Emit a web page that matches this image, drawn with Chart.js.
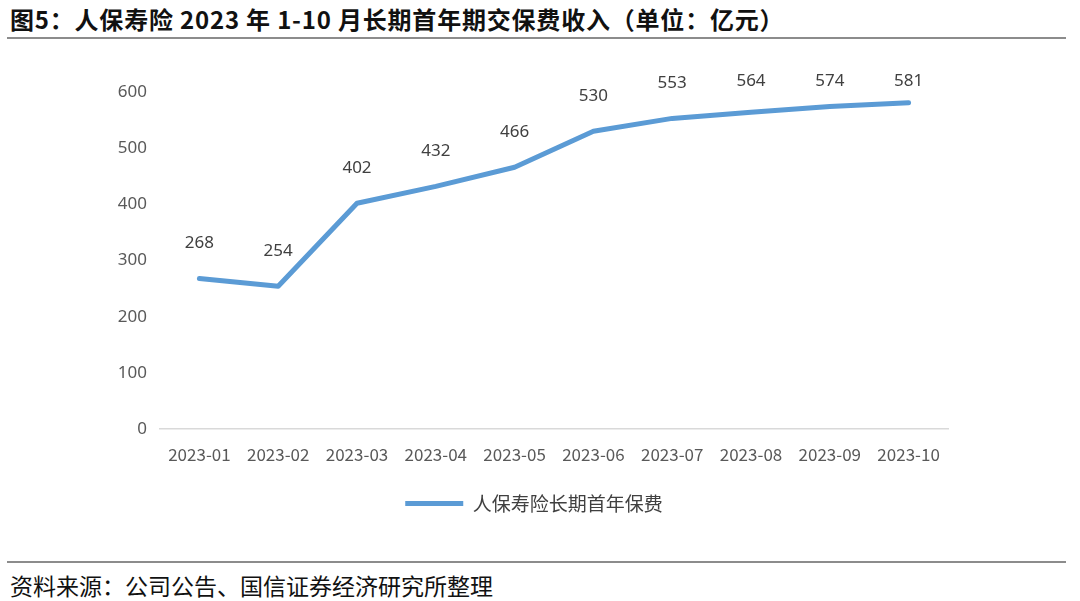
<!DOCTYPE html>
<html>
<head>
<meta charset="utf-8">
<script src="https://cdn.jsdelivr.net/npm/chart.js@4.4.0/dist/chart.umd.min.js"></script>
<style>
  body { margin: 0; width: 1080px; height: 601px; background: #fff; position: relative; overflow: hidden;
         font-family: "Noto Sans CJK SC", "Noto Sans", sans-serif; }
  .title { position: absolute; left: 10px; top: 1px; font-size: 24px; font-weight: bold; color: #111; letter-spacing: 0.8px; }
  .rule { position: absolute; left: 7px; width: 1059px; height: 2px; background: #8c8c8c; }
  .source { position: absolute; left: 10px; top: 568px; font-size: 23px; color: #111; }
  #wrap { position: absolute; left: 0; top: 40px; width: 1080px; height: 520px; }
</style>
</head>
<body>
<div class="title">图5：人保寿险 2023 年 1-10 月长期首年期交保费收入（单位：亿元）</div>
<div class="rule" style="top:37px"></div>
<div id="wrap"><canvas id="myChart"></canvas></div>
<div class="rule" style="top:561px"></div>
<div class="source">资料来源：公司公告、国信证券经济研究所整理</div>
<script>
const months = ["2023-01", "2023-02", "2023-03", "2023-04", "2023-05",
                "2023-06", "2023-07", "2023-08", "2023-09", "2023-10"];
const premium = [268, 254, 402, 432, 466, 530, 553, 564, 574, 581];
const seriesName = "人保寿险长期首年保费";

// value labels above each point
const valueLabels = {
    id: "valueLabels",
    afterDatasetsDraw(chart) {
        const ctx = chart.ctx;
        const meta = chart.getDatasetMeta(0);
        ctx.save();
        ctx.font = "17px 'Noto Sans', 'DejaVu Sans', sans-serif";
        ctx.fillStyle = "#404040";
        ctx.textAlign = "center";
        ctx.textBaseline = "middle";
        meta.data.forEach((pt, i) => {
            const y = Math.max(pt.y - 35, chart.chartArea.top - 11);
            ctx.fillText(premium[i], pt.x, y);
        });
        ctx.restore();
    }
};

// legend in the reference is centred on the page, not on the padded area
const legendShift = {
    id: "legendShift",
    afterUpdate(chart) {
        if (chart.legend) {
            chart.legend.left += 55;
            chart.legend.right += 55;
        }
    }
};

new Chart(document.getElementById("myChart").getContext("2d"), {
    type: "line",
    data: {
        labels: months,
        datasets: [{
            label: seriesName,
            data: premium,
            borderColor: "#5b9bd5",
            backgroundColor: "#5b9bd5",
            borderWidth: 5,
            borderCapStyle: "round",
            borderJoinStyle: "round",
            pointRadius: 0,
            pointStyle: "line",
            tension: 0
        }]
    },
    options: {
        responsive: true,
        maintainAspectRatio: false,
        animation: false,
        layout: { padding: { left: 10, right: 132, top: 52, bottom: 37 } },
        plugins: {
            legend: {
                position: "bottom",
                labels: {
                    usePointStyle: true,
                    pointStyle: "line",
                    pointStyleWidth: 58,
                    color: "#404040",
                    font: { size: 19, family: "'Noto Sans CJK SC', sans-serif" },
                    padding: 10
                }
            },
            tooltip: { enabled: false }
        },
        scales: {
            x: {
                offset: true,
                grid: { display: false, drawTicks: false },
                border: { color: "#d9d9d9", width: 1.5 },
                ticks: {
                    color: "#595959",
                    font: { size: 17, family: "'Noto Sans CJK SC', sans-serif" },
                    padding: 15,
                    maxRotation: 0,
                    autoSkip: false
                },
                afterFit(s) { s.height = 55; }
            },
            y: {
                min: 0,
                max: 600,
                grid: { display: false, drawTicks: false },
                border: { display: false },
                ticks: {
                    stepSize: 100,
                    color: "#595959",
                    font: { size: 17, family: "'Noto Sans', sans-serif" },
                    padding: 13
                },
                afterFit(s) { s.width = 150; }
            }
        }
    },
    plugins: [valueLabels, legendShift]
});
</script>
</body>
</html>
